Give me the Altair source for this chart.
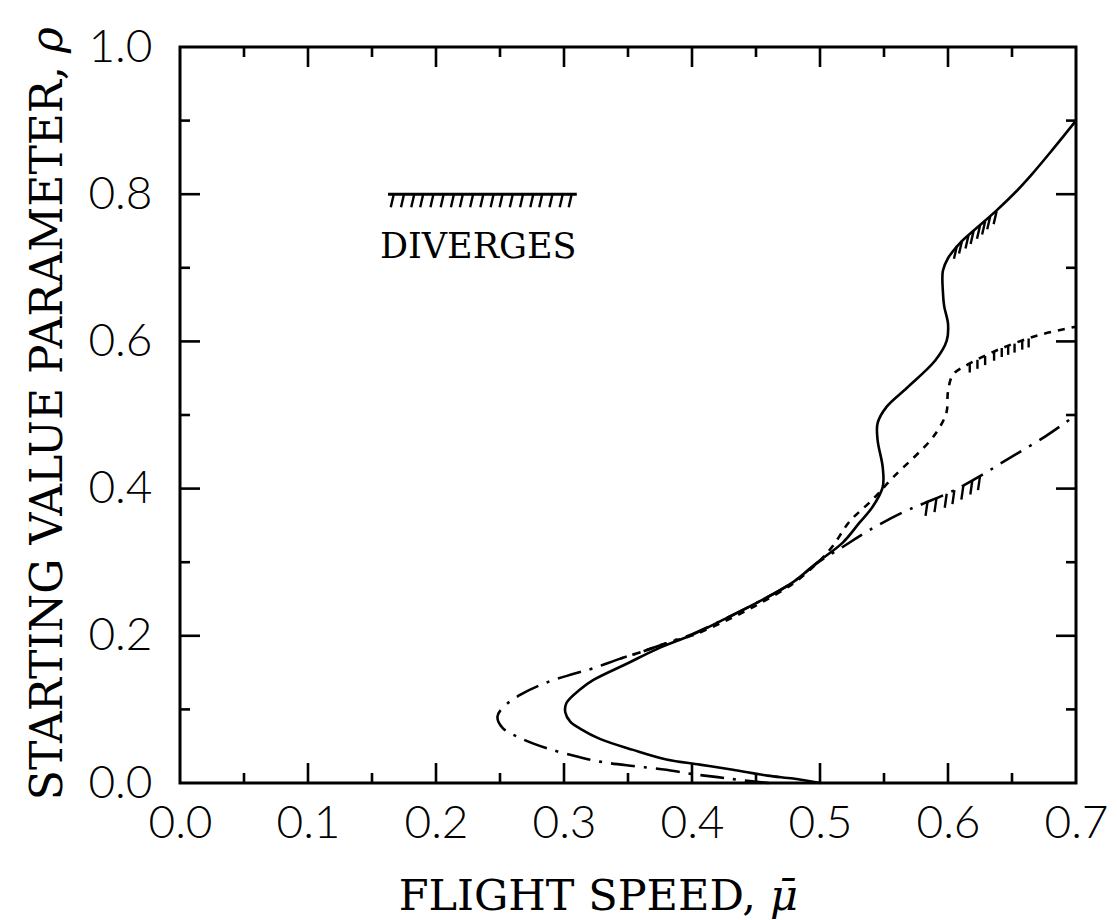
import altair as alt
import pandas as pd

# ---- curves: flight speed (mu) vs starting value parameter (rho) ----
solid_mu = [0.500, 0.479, 0.459, 0.432, 0.406, 0.380, 0.354, 0.328, 0.3125, 0.305,
            0.301, 0.302, 0.3125, 0.323, 0.349, 0.375, 0.401, 0.427, 0.453, 0.479,
            0.498, 0.518, 0.531, 0.541, 0.549, 0.549, 0.545, 0.545, 0.552, 0.568,
            0.590, 0.599, 0.600, 0.597, 0.596, 0.596, 0.600, 0.609, 0.623, 0.638,
            0.654, 0.666, 0.680, 0.700]
solid_rho = [0.000, 0.006, 0.010, 0.018, 0.025, 0.032, 0.045, 0.060, 0.074, 0.083,
             0.096, 0.109, 0.127, 0.140, 0.162, 0.184, 0.202, 0.224, 0.247, 0.273,
             0.300, 0.327, 0.354, 0.375, 0.402, 0.429, 0.466, 0.489, 0.511, 0.537,
             0.574, 0.601, 0.624, 0.648, 0.668, 0.696, 0.713, 0.733, 0.755, 0.778,
             0.805, 0.828, 0.857, 0.900]

dashdot_mu = [0.460, 0.4375, 0.420, 0.401, 0.380, 0.354, 0.328, 0.3125, 0.287, 0.266,
              0.252, 0.248, 0.252, 0.266, 0.287, 0.307, 0.323, 0.344, 0.362, 0.380,
              0.401, 0.427, 0.453, 0.479, 0.498, 0.518, 0.539, 0.565, 0.580, 0.604,
              0.627, 0.641, 0.677, 0.700]
dashdot_rho = [0.000, 0.004, 0.008, 0.012, 0.018, 0.023, 0.029, 0.035, 0.047, 0.061,
               0.075, 0.090, 0.102, 0.120, 0.137, 0.148, 0.156, 0.169, 0.179, 0.190,
               0.203, 0.224, 0.247, 0.273, 0.299, 0.321, 0.344, 0.368, 0.379, 0.397,
               0.419, 0.434, 0.472, 0.500]

dashed_mu = [0.344, 0.362, 0.380, 0.401, 0.427, 0.453, 0.479, 0.498, 0.510, 0.523,
             0.541, 0.557, 0.586, 0.595, 0.599, 0.600, 0.604, 0.617, 0.641, 0.670,
             0.700]
dashed_rho = [0.169, 0.179, 0.190, 0.201, 0.221, 0.244, 0.271, 0.299, 0.322, 0.355,
              0.385, 0.415, 0.465, 0.488, 0.505, 0.532, 0.555, 0.570, 0.590, 0.608,
              0.620]

# ---- divergence hatching along each curve ----
solid_hatch_mu = [0.607, 0.611, 0.616, 0.620, 0.625, 0.629, 0.633, 0.638]
solid_hatch_rho = [0.730, 0.737, 0.744, 0.750, 0.757, 0.763, 0.770, 0.777]
dashed_hatch_mu = [0.617, 0.623, 0.629, 0.636, 0.642, 0.647, 0.652, 0.658, 0.663]
dashed_hatch_rho = [0.570, 0.575, 0.580, 0.586, 0.591, 0.594, 0.597, 0.601, 0.604]
dashdot_hatch_mu = [0.584, 0.591, 0.599, 0.605, 0.612, 0.619, 0.625]
dashdot_hatch_rho = [0.382, 0.387, 0.393, 0.398, 0.404, 0.411, 0.417]

# ---- key: hatched line with "DIVERGES" ----
key_line_mu = [0.1625, 0.310]
key_line_rho = [0.800, 0.800]
key_hatch_mu = [0.167, 0.175, 0.183, 0.190, 0.198, 0.206, 0.214, 0.221, 0.229, 0.237,
                0.245, 0.252, 0.260, 0.268, 0.276, 0.283, 0.291, 0.299, 0.306]
key_text = ["DIVERGES"]
key_text_mu = [0.233]
key_text_rho = [0.728]

# ---- axis ticks and titles ----
x_labels = [0.0, 0.1, 0.2, 0.3, 0.4, 0.5, 0.6, 0.7]
y_labels = [0.0, 0.2, 0.4, 0.6, 0.8, 1.0]
x_major = [0.1, 0.2, 0.3, 0.4, 0.5, 0.6]
x_minor = [0.05, 0.15, 0.25, 0.35, 0.45, 0.55, 0.65]
y_major = [0.2, 0.4, 0.6, 0.8]
y_minor = [0.1, 0.3, 0.5, 0.7, 0.9]
x_title = "FLIGHT SPEED,"
x_symbol = "μ̄"
y_title = "STARTING VALUE PARAMETER,"
y_symbol = "ρ"

X_MAX, Y_MAX = 0.7, 1.0
W, H = 896, 736
INK = "#000000"
LABEL_FONT = "Lato"
TITLE_FONT = "DejaVu Serif"


def path(mu, rho):
    return pd.DataFrame({"mu": mu, "rho": rho, "i": range(len(mu))})


xs = alt.Scale(domain=[0, X_MAX], nice=False, zero=False)
ys = alt.Scale(domain=[0, Y_MAX], nice=False, zero=False)

x_axis = alt.Axis(
    values=x_labels, format=".1f", labelFont=LABEL_FONT, labelFontSize=46,
    labelFontWeight=300, labelColor=INK, labelPadding=18, ticks=False,
    tickSize=0, domain=False, grid=False, labelFlush=False, labelOverlap=False,
    title="",
)
y_axis = alt.Axis(
    values=y_labels, format=".1f", labelFont=LABEL_FONT, labelFontSize=46,
    labelFontWeight=300, labelColor=INK, labelPadding=28, labelBaseline="middle",
    ticks=False, tickSize=0, domain=False, grid=False, labelFlush=False,
    labelOverlap=False, title="",
)


def curve(df, dash, width=2.6):
    props = dict(interpolate="catmull-rom", color=INK, strokeWidth=width)
    if dash:
        props["strokeDash"] = dash
    return alt.Chart(df).mark_line(**props).encode(
        x=alt.X("mu:Q", scale=xs, axis=x_axis),
        y=alt.Y("rho:Q", scale=ys, axis=y_axis),
        order="i:Q",
    )


solid = curve(path(solid_mu, solid_rho), None)
dashdot = curve(path(dashdot_mu, dashdot_rho), [24, 9, 3, 9])
dashed = curve(path(dashed_mu, dashed_rho), [7, 7])


def hatch(mu, rho, dx, dy, width=2.4):
    df = pd.DataFrame({"mu": mu, "rho": rho})
    return alt.Chart(df).mark_rule(
        color=INK, strokeWidth=width, x2Offset=dx, y2Offset=dy
    ).encode(x="mu:Q", y="rho:Q", x2="mu:Q", y2="rho:Q")


solid_h = hatch(solid_hatch_mu, solid_hatch_rho, -3, 13)
dashed_h = hatch(dashed_hatch_mu, dashed_hatch_rho, 0, 9)
dashdot_h = hatch(dashdot_hatch_mu, dashdot_hatch_rho, -2, 14)
key_h = hatch(key_hatch_mu, [key_line_rho[0]] * len(key_hatch_mu), -3, 13)

key_line = alt.Chart(
    pd.DataFrame({"mu": key_line_mu[:1], "mu2": key_line_mu[1:], "rho": key_line_rho[:1]})
).mark_rule(color=INK, strokeWidth=3).encode(x="mu:Q", x2="mu2:Q", y="rho:Q")

key_label = alt.Chart(
    pd.DataFrame({"mu": key_text_mu, "rho": key_text_rho, "t": key_text})
).mark_text(font=TITLE_FONT, fontSize=35, color=INK, baseline="middle",
            align="center").encode(x="mu:Q", y="rho:Q", text="t:N")


# inward-pointing ticks on all four sides of the frame
def vticks(vals, y0, y1):
    df = pd.DataFrame({"v": vals})
    return alt.Chart(df).mark_rule(color=INK, strokeWidth=2.6).encode(
        x="v:Q", y=alt.datum(y0), y2=alt.datum(y1))


def hticks(vals, x0, x1):
    df = pd.DataFrame({"v": vals})
    return alt.Chart(df).mark_rule(color=INK, strokeWidth=2.6).encode(
        y="v:Q", x=alt.datum(x0), x2=alt.datum(x1))


XL_MAJ, XL_MIN = 20 / H, 10 / H
YL_MAJ, YL_MIN = 20 / W * X_MAX, 10 / W * X_MAX
ticks = [
    vticks(x_major, 0, XL_MAJ), vticks(x_minor, 0, XL_MIN),
    vticks(x_major, Y_MAX, Y_MAX - XL_MAJ), vticks(x_minor, Y_MAX, Y_MAX - XL_MIN),
    hticks(y_major, 0, YL_MAJ), hticks(y_minor, 0, YL_MIN),
    hticks(y_major, X_MAX, X_MAX - YL_MAJ), hticks(y_minor, X_MAX, X_MAX - YL_MIN),
]


# axis titles: upright words ending at a shared anchor, italic symbol after it
def title_text(text, x, y, size, align, angle=0, style="normal"):
    props = dict(text=text, font=TITLE_FONT, fontSize=size, fontStyle=style,
                 color=INK, align=align, baseline="alphabetic")
    if angle:
        props["angle"] = angle
    return alt.Chart(pd.DataFrame({"k": [0]})).mark_text(**props).encode(
        x=alt.value(x), y=alt.value(y))


titles = [
    title_text(x_title, 576, 863, 43, "right"),
    title_text(x_symbol, 590, 863, 43, "left", style="italic"),
    title_text(y_title, -118, 19, 44, "right", angle=270),
    title_text(y_symbol, -118, 6, 44, "left", angle=270, style="italic"),
]

chart = alt.layer(
    solid, dashdot, dashed, *ticks, solid_h, dashed_h, dashdot_h,
    key_line, key_h, key_label, *titles,
).properties(
    width=W, height=H,
    autosize=alt.AutoSizeParams(type="none"),
    padding={"left": 180, "top": 47, "right": 41, "bottom": 137},
    background="white",
).configure_view(
    stroke=INK, strokeWidth=3,
)

chart.save("out.html", embed_options={"renderer": "svg", "actions": False})
